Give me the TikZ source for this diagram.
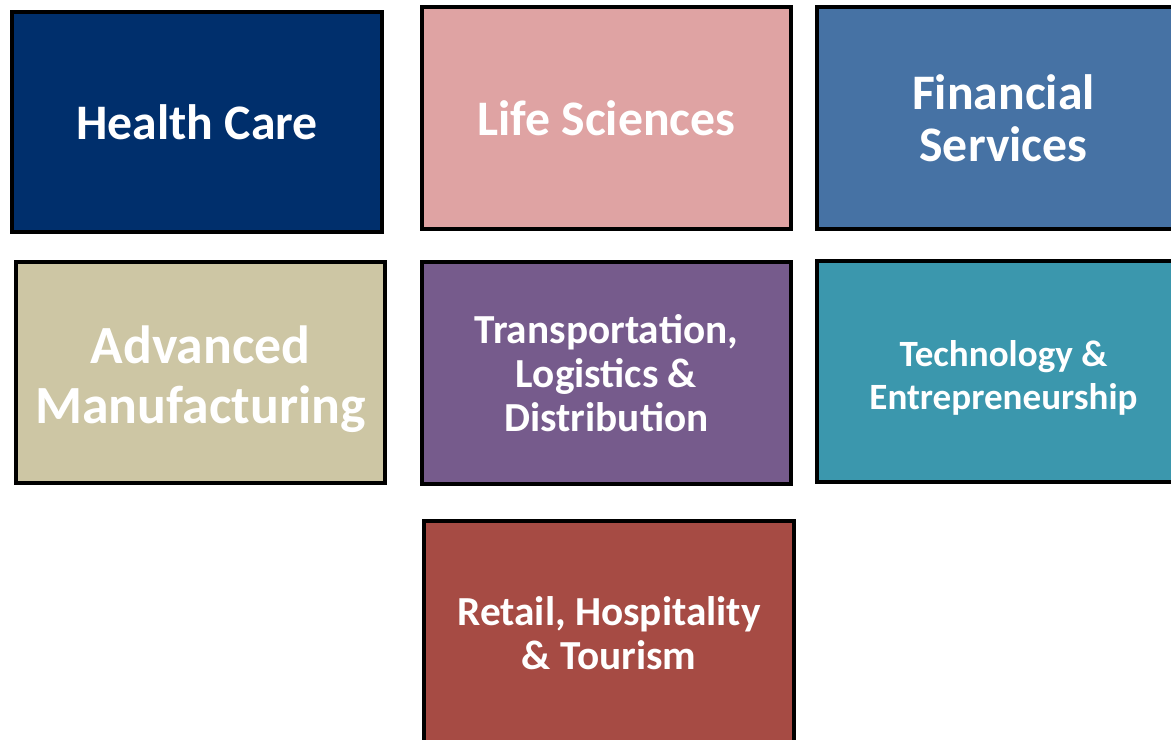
\documentclass[tikz,border=0pt]{standalone}
\usepackage{fontspec}
\setmainfont{Carlito}
\definecolor{hc}{HTML}{002F6C}
\definecolor{ls}{HTML}{DFA3A3}
\definecolor{fs}{HTML}{4672A4}
\definecolor{am}{HTML}{CDC6A4}
\definecolor{tl}{HTML}{765B8C}
\definecolor{te}{HTML}{3B97AD}
\definecolor{rt}{HTML}{A64B44}
\begin{document}
\begin{tikzpicture}[x=0.02cm,y=-0.02cm,
  sector/.style={draw=black, line width=0.09cm, inner sep=0pt, text=white, align=center},
  lbl/.style={inner sep=0pt, text=white, align=center},
  fA/.style={font=\fontsize{28.3pt}{29.5pt}\selectfont\bfseries},
  fB/.style={font=\fontsize{30.6pt}{34pt}\selectfont\bfseries},
  fC/.style={font=\fontsize{23.5pt}{25.2pt}\selectfont\bfseries},
  fD/.style={font=\fontsize{21.1pt}{24.4pt}\selectfont\bfseries}]
\useasboundingbox (0,0) rectangle (1171,740);
\clip (0,0) rectangle (1171,740);
\node[sector, fA, fill=hc, minimum width=7.4cm, minimum height=4.4cm] (hc) at (197,122) {Health Care};
\node[sector, fA, fill=ls, minimum width=7.38cm, minimum height=4.44cm] (ls) at (606.5,118) {Life Sciences};
\node[sector, fA, fill=fs, minimum width=7.46cm, minimum height=4.44cm] (fs) at (1003.5,118) {Financial\\Services};
\node[sector, fill=am, minimum width=7.38cm, minimum height=4.42cm] (am) at (200.5,372.5) {};
\node[lbl, fB] (amt) at (200.5,379) {Advanced\\Manufacturing};
\node[sector, fC, fill=tl, minimum width=7.38cm, minimum height=4.44cm] (tl) at (606.5,373) {Transportation,\\Logistics \&\\Distribution};
\node[sector, fill=te, minimum width=7.46cm, minimum height=4.42cm] (te) at (1003.5,371.5) {};
\node[lbl, fD] (tet) at (1003.5,377.5) {Technology \&\\Entrepreneurship};
\node[sector, fC, fill=rt, minimum width=7.4cm, minimum height=4.48cm] (rt) at (609,633) {Retail, Hospitality\\\& Tourism};
\end{tikzpicture}
\end{document}
